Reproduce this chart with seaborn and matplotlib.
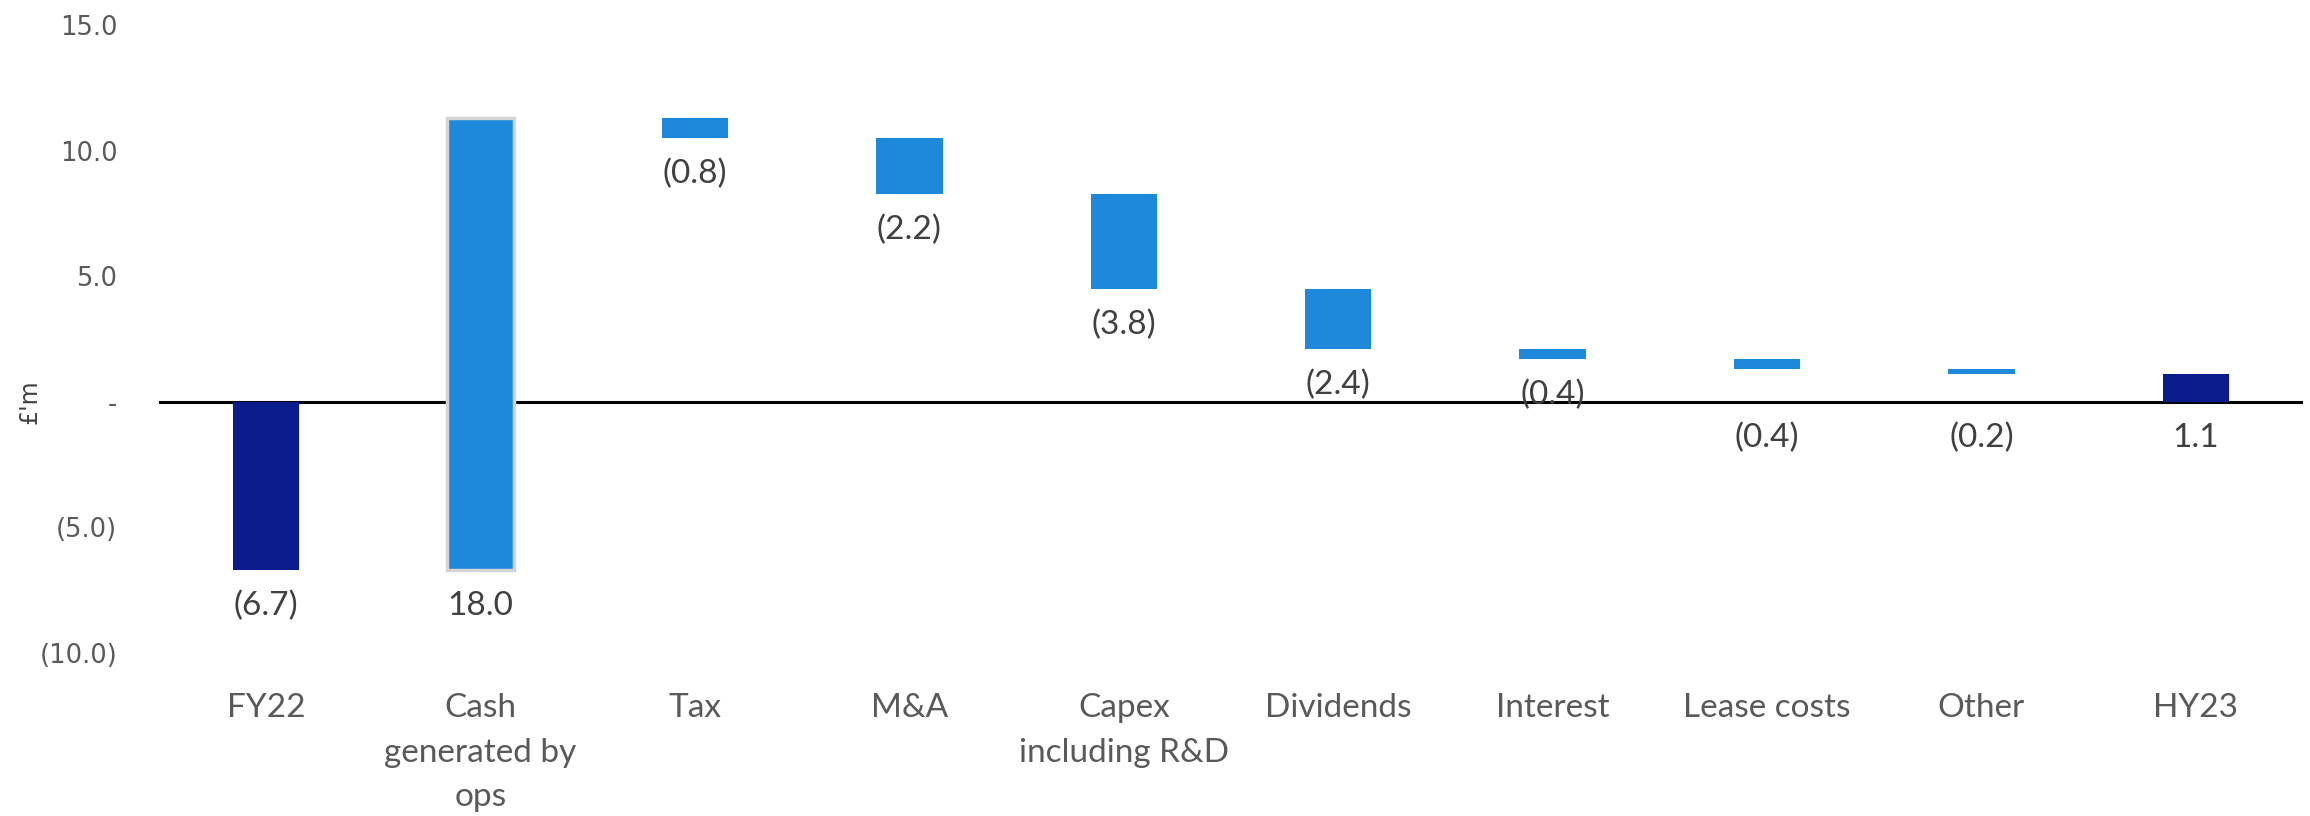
import numpy as np
import pandas as pd
import matplotlib
matplotlib.use("Agg")
import matplotlib.pyplot as plt
import seaborn as sns

categories = ["FY22", "Cash\ngenerated by\nops", "Tax", "M&A", "Capex\nincluding R&D",
              "Dividends", "Interest", "Lease costs", "Other", "HY23"]
changes = [-6.7, 18.0, -0.8, -2.2, -3.8, -2.4, -0.4, -0.4, -0.2, 1.1]
is_total = [True, False, False, False, False, False, False, False, False, True]
label_texts = ["(6.7)", "18.0", "(0.8)", "(2.2)", "(3.8)", "(2.4)", "(0.4)", "(0.4)", "(0.2)", "1.1"]
yticks = [-10, -5, 0, 5, 10, 15]
ytick_labels = ["(10.0)", "(5.0)", "-", "5.0", "10.0", "15.0"]

# waterfall bottoms derived from the data
bottoms = []
running = 0.0
for c, t in zip(changes, is_total):
    if t:
        bottoms.append(0.0)
        running = c
    else:
        bottoms.append(running)
        running += c

df = pd.DataFrame({"cat": categories, "change": changes, "bottom": bottoms})

sns.set_theme(style="white")
plt.rcParams["font.family"] = ["Lato", "DejaVu Sans"]

DARK = "#0A1C8C"
LIGHT = "#1E88DA"
GREY = "#595959"

fig = plt.figure(figsize=(23.1, 8.16), dpi=100)
ax = fig.add_axes([0.0688, 0.1998, 0.9282, 0.7692])

sns.barplot(data=df, x="cat", y="change", bottom=df["bottom"].values, width=0.31,
            color=LIGHT, ax=ax, errorbar=None, linewidth=0, order=categories)

for patch, tot, cat in zip(ax.patches, is_total, categories):
    patch.set_facecolor(DARK if tot else LIGHT)
    patch.set_edgecolor("none")
    if cat.startswith("Cash"):
        patch.set_edgecolor("#D4D4D4")
        patch.set_linewidth(2.5)

ax.set_ylim(-10, 15)
ax.set_xlim(-0.5, len(categories) - 0.5)
ax.axhline(0, color="black", lw=2.2, zorder=0.5)

for spine in ax.spines.values():
    spine.set_visible(False)

ax.set_yticks(yticks)
ax.set_yticklabels(ytick_labels, family="DejaVu Sans", fontsize=18.5, color=GREY)
ax.tick_params(axis="y", length=0, pad=30)
ax.tick_params(axis="x", length=0, pad=29, labelsize=24, labelcolor=GREY)
for lbl in ax.get_xticklabels():
    lbl.set_linespacing(1.6)
    lbl.set_verticalalignment("top")

ax.set_xlabel("")
ax.set_ylabel("£'m", fontsize=17, color="#404040", family="DejaVu Sans")
ax.yaxis.set_label_coords(-0.055, (0 - (-10)) / 25)

for i, (c, b, txt) in enumerate(zip(changes, bottoms, label_texts)):
    low = min(b, b + c)
    if low < 1.5:
        low = min(low, 0)
    ax.annotate(txt, xy=(i, low), xytext=(0, -15), textcoords="offset points",
                ha="center", va="top", fontsize=24, color="#404040")

fig.savefig("out.png", dpi=100)
